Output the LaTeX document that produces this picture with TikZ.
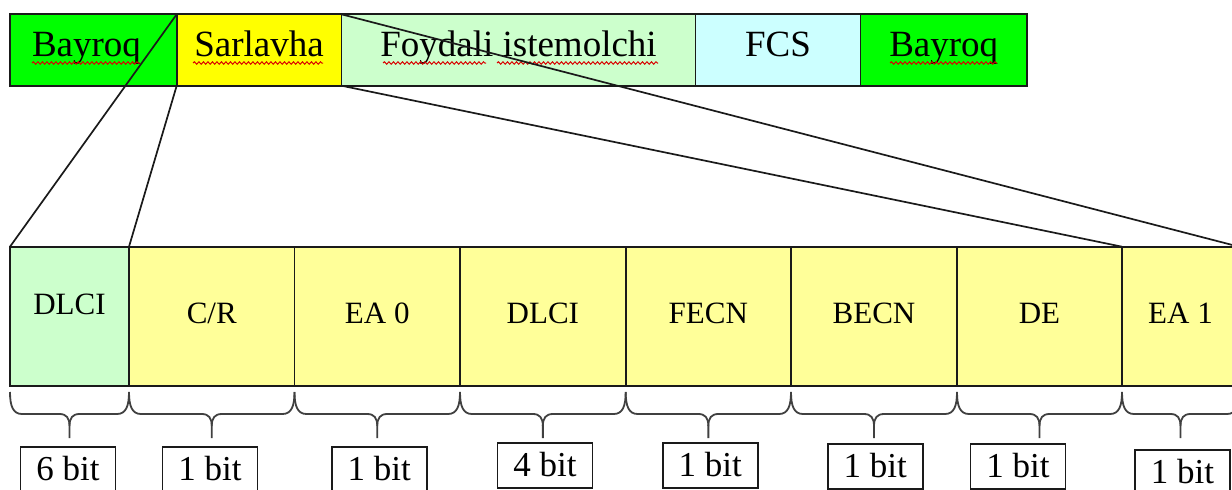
\documentclass[tikz,border=0pt]{standalone}
\usepackage{fontspec}
\setmainfont{Liberation Serif}
\usetikzlibrary{decorations.pathmorphing}
\definecolor{flaggreen}{HTML}{00FF00}
\definecolor{headyellow}{HTML}{FFFF00}
\definecolor{paygreen}{HTML}{CCFFCC}
\definecolor{fcscyan}{HTML}{CCFFFF}
\definecolor{fieldyellow}{HTML}{FFFF99}
\definecolor{linecol}{HTML}{1A1A1A}
\definecolor{bracecol}{HTML}{404040}
\tikzset{
  topbox/.style={draw=linecol, line width=1.9pt, minimum height=71.4pt, inner sep=0pt, outer sep=0pt,
    font=\fontsize{37}{40}\selectfont, text height=25pt, text depth=13pt},
  fieldbox/.style={draw=linecol, line width=1.9pt, minimum height=139pt, inner sep=0pt, outer sep=0pt,
    fill=fieldyellow, font=\fontsize{31}{34}\selectfont, text height=22pt, text depth=7.8pt},
  labbox/.style={draw=linecol, line width=1.7pt, minimum width=95pt, minimum height=45pt, inner sep=0pt, outer sep=0pt,
    fill=white, font=\fontsize{35}{38}\selectfont, text height=25pt, text depth=4pt},
  conn/.style={draw=linecol, line width=1.7pt},
  bracestyle/.style={draw=bracecol, line width=1.8pt, line join=round},
  spell/.style={draw=red!85!black, line width=1pt, decorate, decoration={snake, amplitude=1.2pt, segment length=4.5pt}}
}
\begin{document}
\begin{tikzpicture}[x=1pt,y=-1pt]
\useasboundingbox (0,0) rectangle (1232,490);
\clip (0,0) rectangle (1232,490);

% top frame
\node[topbox, fill=flaggreen, minimum width=166.7pt, text width=122.7pt, align=left] (bay1) at (93.35,50) {Bayroq};
\node[topbox, fill=headyellow, minimum width=164.8pt] (sar) at (259.1,50) {Sarlavha};
\node[topbox, fill=paygreen, minimum width=354pt] (pay) at (518.5,50) {Foydali istemolchi};
\node[topbox, fill=fcscyan, minimum width=165pt] (fcs) at (778,50) {FCS};
\node[topbox, fill=flaggreen, minimum width=166.5pt] (bay2) at (943.75,50) {Bayroq};

% spell-check underlines
\draw[spell] (32,63) -- (140,63);
\draw[spell] (193,63) -- (323,63);
\draw[spell] (383,63) -- (486,63);
\draw[spell] (497,63) -- (658,63);
\draw[spell] (890,63) -- (997,63);

% header fields
\node[fieldbox, fill=paygreen, minimum width=119pt, text height=18pt, text depth=22.4pt] (dlci1) at (69.5,316.2) {DLCI};
\node[fieldbox, minimum width=165.5pt] (cr) at (211.75,316.2) {C/R};
\node[fieldbox, minimum width=165.5pt] (ea0) at (377.25,316.2) {EA 0};
\node[fieldbox, minimum width=165.7pt] (dlci2) at (542.85,316.2) {DLCI};
\node[fieldbox, minimum width=165.3pt] (fecn) at (708.35,316.2) {FECN};
\node[fieldbox, minimum width=166pt] (becn) at (874,316.2) {BECN};
\node[fieldbox, minimum width=165pt] (de) at (1039.5,316.2) {DE};
\node[fieldbox, minimum width=117pt] (ea1) at (1180.5,316.2) {EA 1};

% expansion lines
\draw[conn] (bay1.north east) -- (dlci1.north west);
\draw[conn] (sar.south west) -- (dlci1.north east);
\draw[conn] (sar.north east) -- (ea1.north east);
\draw[conn] (sar.south east) -- (de.north east);

% braces
\foreach \a/\b in {10/129, 129/294.5, 294.5/460, 460/625.7, 625.7/791, 791/957, 957/1122, 1122/1239} {
  \pgfmathsetmacro\m{(\a+\b)/2}
  \draw[bracestyle] (\a,392) .. controls (\a,406) and (\a+3,414) .. (\a+12,414) -- (\m-10,414)
     .. controls (\m-3,414) and (\m,418) .. (\m,426) -- (\m,438);
  \draw[bracestyle] (\m,426) .. controls (\m,418) and (\m+3,414) .. (\m+10,414) -- (\b-12,414)
     .. controls (\b-3,414) and (\b,406) .. (\b,392);
}

% bit counts
\node[labbox] (l1) at (68,469.5) {6 bit};
\node[labbox] (l2) at (210,469.5) {1 bit};
\node[labbox] (l3) at (379.2,469.5) {1 bit};
\node[labbox] (l4) at (545,465.5) {4 bit};
\node[labbox] (l5) at (710.3,465.5) {1 bit};
\node[labbox] (l6) at (875.3,466.5) {1 bit};
\node[labbox] (l7) at (1018,466.5) {1 bit};
\node[labbox] (l8) at (1182.5,472.5) {1 bit};
\end{tikzpicture}
\end{document}
